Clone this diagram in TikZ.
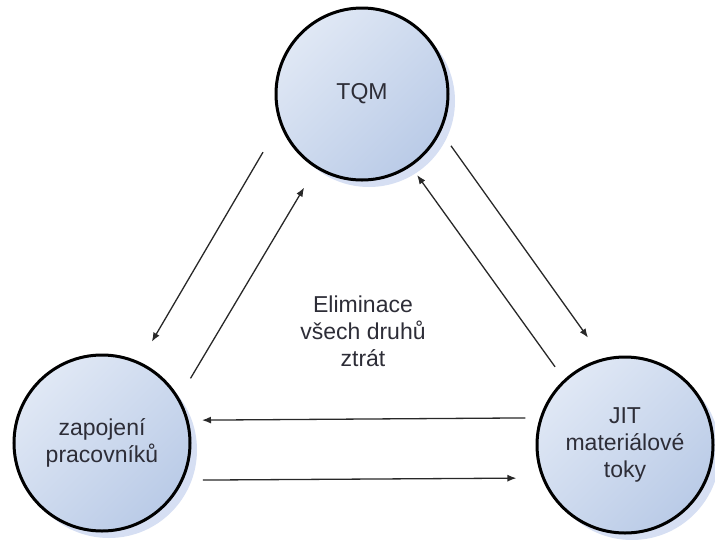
\documentclass[tikz,border=0pt]{standalone}
\usepackage{fontspec}
\setmainfont{Liberation Sans}
\usetikzlibrary{shadows,arrows.meta}
\definecolor{circlelight}{RGB}{224,232,245}
\definecolor{circledark}{RGB}{186,203,231}
\definecolor{shadowblue}{RGB}{214,223,243}
\definecolor{textgray}{RGB}{45,45,55}
\definecolor{arrowgray}{RGB}{40,40,40}
\tikzset{
  bubble/.style = {
    circle, draw=black, line width=3pt, outer sep=0pt,
    shading=axis, left color=circlelight, right color=circledark,
    shading angle=45,
    drop shadow={shadow xshift=7pt, shadow yshift=-7pt, fill=shadowblue, opacity=1},
    text=textgray, align=center, font=\fontsize{23}{27}\selectfont
  },
  flow/.style = {->, line width=1.3pt, color=arrowgray}
}
\tikzset{>={Latex[length=9pt,width=7pt]}}

\begin{document}
\begin{tikzpicture}[x=1pt,y=-1pt]
  \useasboundingbox (0,0) rectangle (715,539);
  \node[bubble, minimum size=172pt] (tqm) at (362,94) {TQM};
  \node[bubble, minimum size=176pt] (zap) at (102,443) {zapojení\\pracovníků};
  \node[bubble, minimum size=176pt] (jit) at (625,445) {JIT\\materiálové\\toky};
  \node[text=textgray, align=center, font=\fontsize{23}{27}\selectfont] (goal) at (363,331)
    {Eliminace\\všech druhů\\ztrát};

  \draw[flow, shorten <=35pt, shorten >=25pt] (tqm.199) -- (zap.65);
  \draw[flow, shorten <=24pt, shorten >=24pt] (zap.30.5) -- (tqm.238);
  \draw[flow, shorten <=19pt, shorten >=27pt] (tqm.335) -- (jit.104.2);
  \draw[flow, shorten <=17pt, shorten >=12pt] (jit.133.1) -- (tqm.304);
  \draw[flow, shorten <=16pt, shorten >=15pt] (jit.162.8) -- (zap.15.8);
  \draw[flow, shorten <=21pt, shorten >=27pt] (zap.335.9) -- (jit.202.7);
\end{tikzpicture}
\end{document}
